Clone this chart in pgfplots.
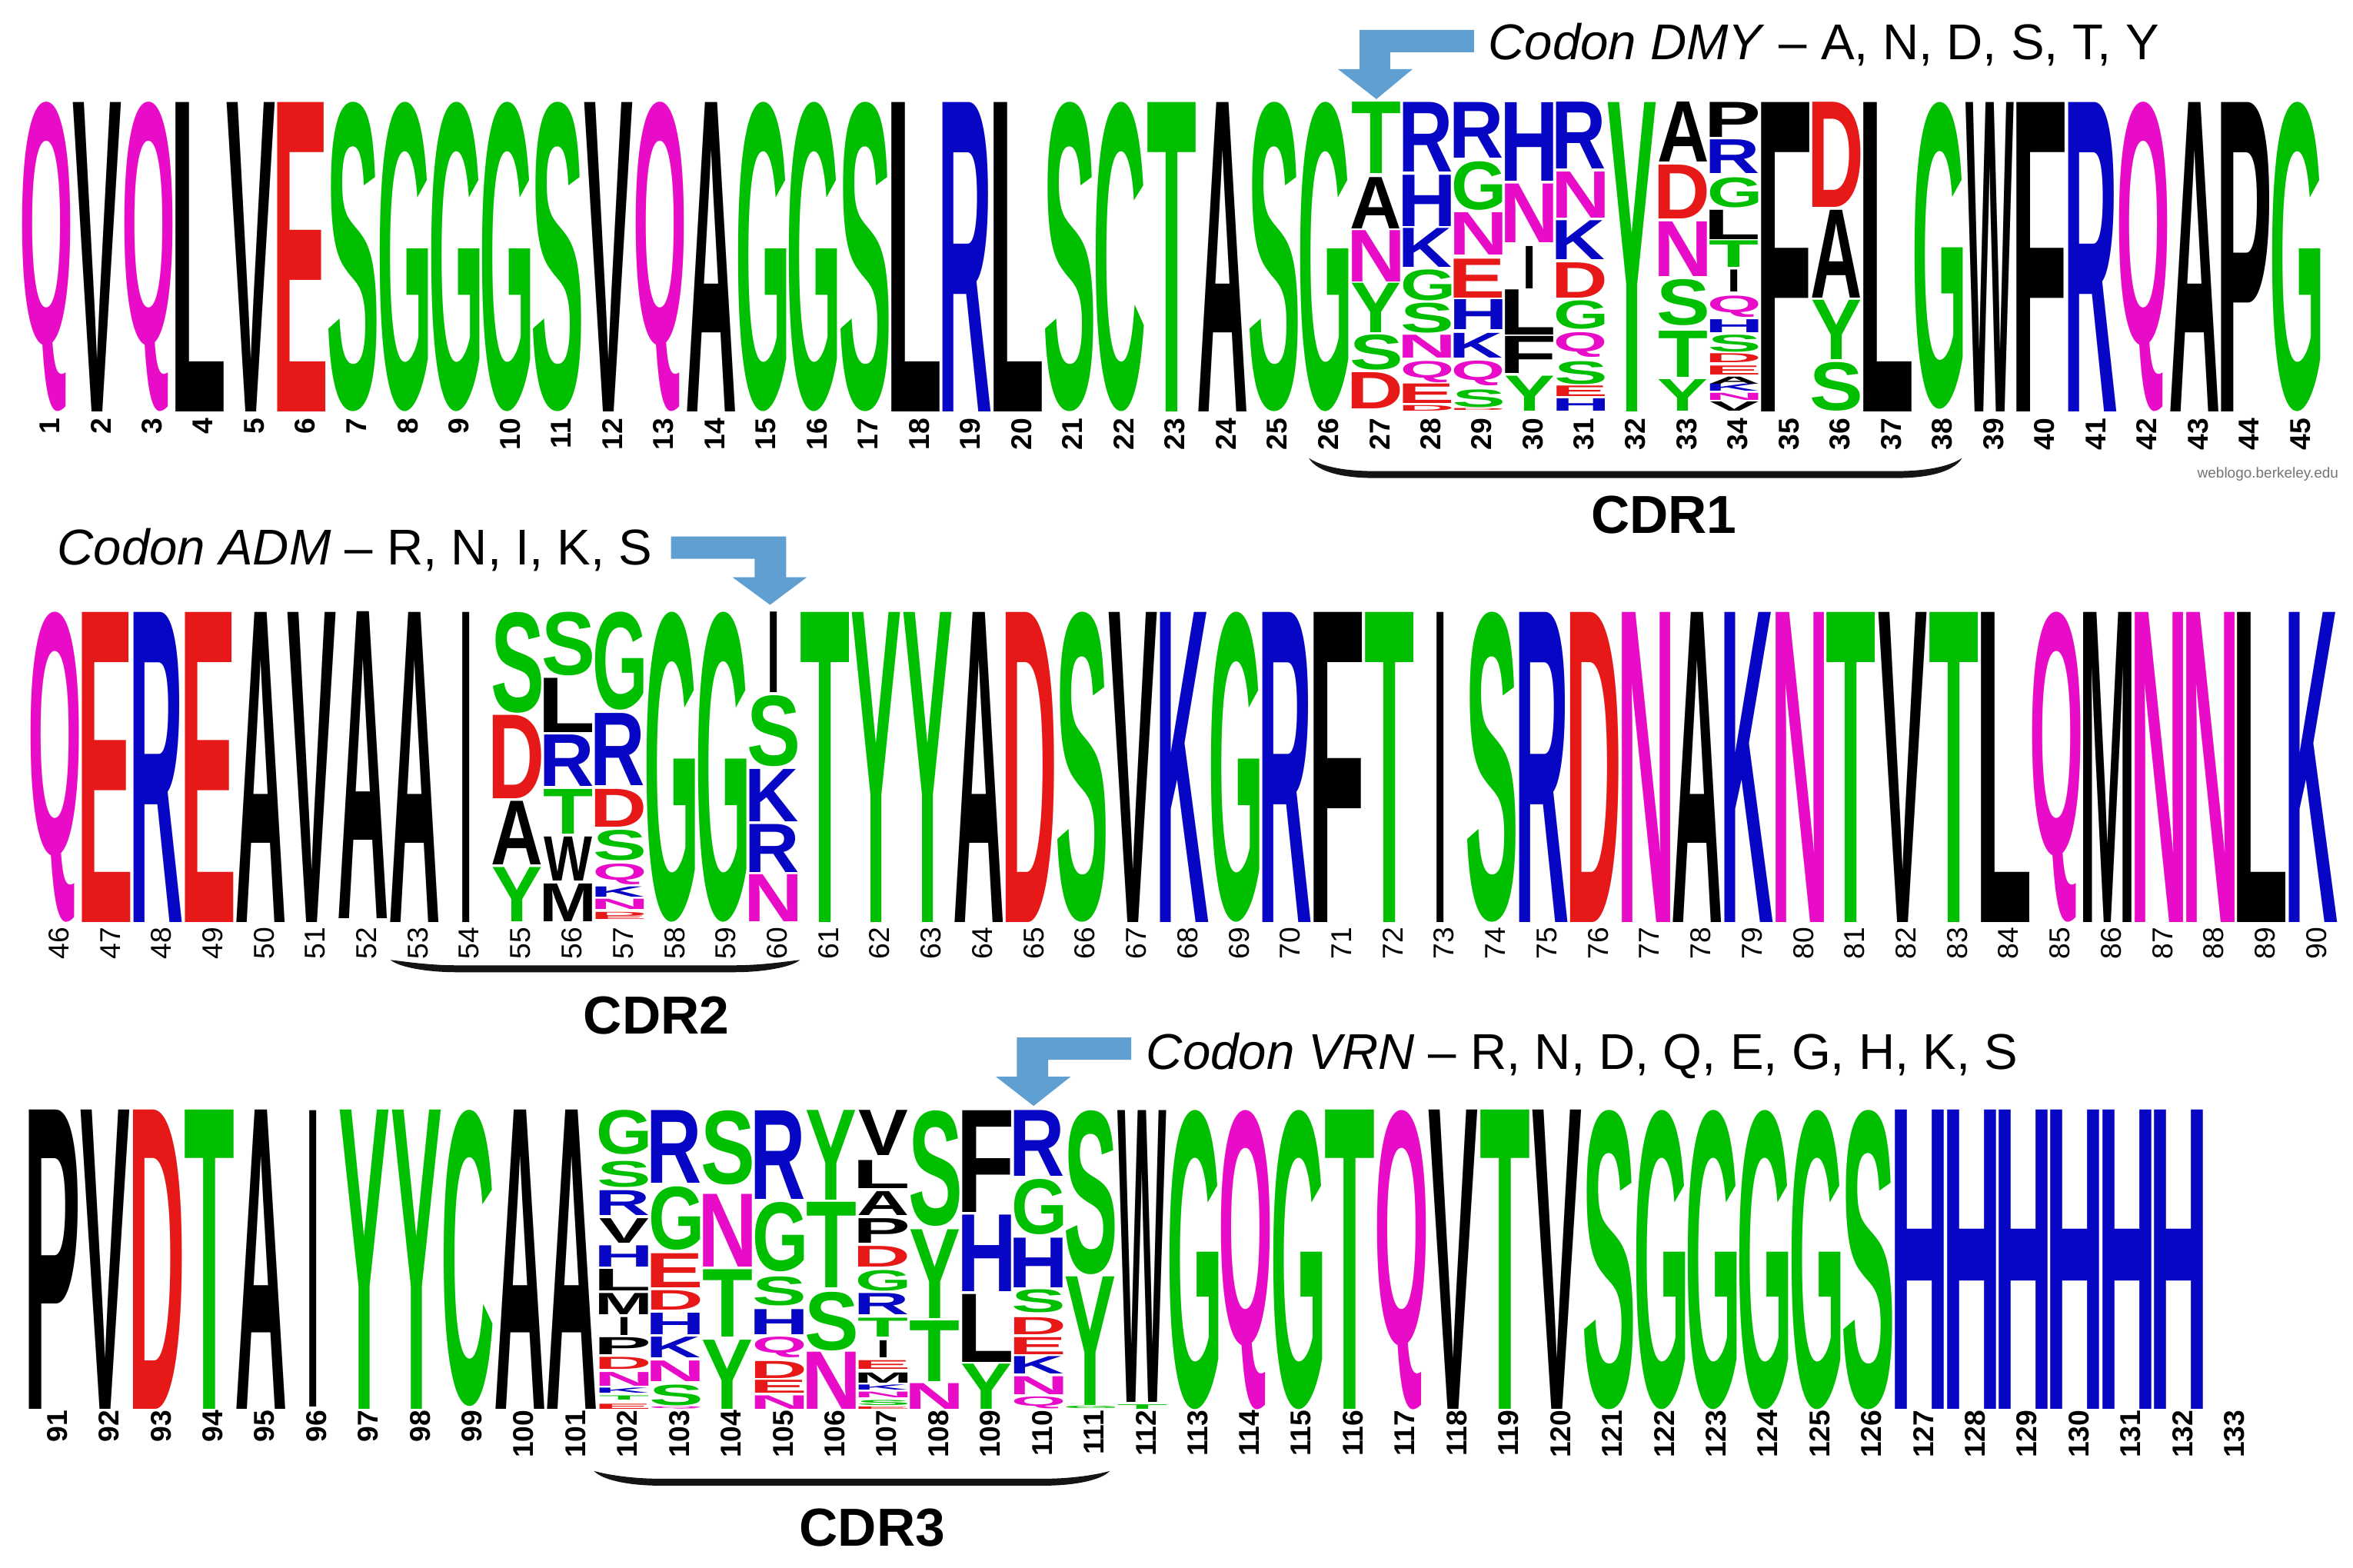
\documentclass[border=0pt]{standalone}
\usepackage{fontspec}
\setmainfont{Liberation Sans}
\usepackage{graphicx}
\usepackage{xcolor}
\usepackage{pgfplots}
\usepackage{pgfplotstable}
\pgfplotsset{compat=1.18}

% residue colours
\definecolor{lgreen}{HTML}{00BE00}
\definecolor{lblue}{HTML}{0606C4}
\definecolor{lred}{HTML}{E61818}
\definecolor{lpink}{HTML}{E80CC8}
\definecolor{arrowblue}{HTML}{5F9FD2}
\colorlet{lcG}{lgreen}\colorlet{lcS}{lgreen}\colorlet{lcT}{lgreen}\colorlet{lcY}{lgreen}\colorlet{lcC}{lgreen}
\colorlet{lcN}{lpink}\colorlet{lcQ}{lpink}
\colorlet{lcK}{lblue}\colorlet{lcR}{lblue}\colorlet{lcH}{lblue}
\colorlet{lcD}{lred}\colorlet{lcE}{lred}
\colorlet{lcA}{black}\colorlet{lcV}{black}\colorlet{lcL}{black}\colorlet{lcI}{black}
\colorlet{lcP}{black}\colorlet{lcW}{black}\colorlet{lcF}{black}\colorlet{lcM}{black}

% one letter, cut to its ink and stretched to the stack cell
\newlength\rowh
\newlength\roww
\def\letI{I}
\newcommand{\logoglyph}{%
  \edef\lett{\pgfplotspointmeta}%
  \ifx\lett\letI\def\thisw{0.09cm}\else\def\thisw{\roww}\fi
  \resizebox*{\thisw}{\hgt\rowh}{\bfseries\textcolor{lc\lett}{%
    \kern-\XeTeXglyphbounds1 \XeTeXcharglyph\expandafter`\lett\relax
    \lett
    \kern-\XeTeXglyphbounds3 \XeTeXcharglyph\expandafter`\lett\relax}}%
}

% the labels are rotated, so yshift moves them sideways and xshift up
\pgfplotsset{
  logo/.style={
    scale only axis, clip=false,
    ymin=0, ymax=100,
    axis y line=none, axis x line*=bottom,
    axis line style={draw=none}, tick style={draw=none},
    major tick length=0pt,
    /pgf/number format/assume math mode=true,
    x tick label style={rotate=90, anchor=east, inner sep=0pt, yshift=-0.045cm},
  },
  letters/.style={
    only marks, mark=none,
    point meta=explicit symbolic,
    visualization depends on={\thisrow{h} \as \hgt},
    nodes near coords={\logoglyph},
    every node near coord/.append style={anchor=south, inner sep=0pt, outer sep=0pt},
  },
}

\pgfplotstableread[row sep=\\]{
p b h l\\
1 0 100 Q\\ 2 0 100 V\\ 3 0 100 Q\\ 4 0 100 L\\ 5 0 100 V\\ 6 0 100 E\\ 7 0 100 S\\ 8 0 100 G\\ 9 0 100 G\\
10 0 100 G\\ 11 0 100 S\\ 12 0 100 V\\ 13 0 100 Q\\ 14 0 100 A\\ 15 0 100 G\\ 16 0 100 G\\ 17 0 100 S\\
18 0 100 L\\ 19 0 100 R\\ 20 0 100 L\\ 21 0 100 S\\ 22 0 100 C\\ 23 0 100 T\\ 24 0 100 A\\ 25 0 100 S\\ 26 0 100 G\\
27 0.8 11.7 D\\ 27 13.4 11.4 S\\ 27 25.4 16 Y\\ 27 42 16.6 N\\ 27 59 16.6 A\\ 27 76.9 23.1 T\\
28 0.2 1.8 D\\ 28 2.5 6.3 E\\ 28 9.4 6.9 Q\\ 28 17.4 7.4 N\\ 28 25.4 9.7 S\\ 28 35.7 10 G\\ 28 46.6 12.6 K\\ 28 59.7 16.6 H\\ 28 77.5 22.5 R\\
29 0.2 0.6 D\\ 29 1.4 5.7 S\\ 29 8.2 8 Q\\ 29 17.4 8 K\\ 29 26.5 9.7 H\\ 29 36.8 12.6 E\\ 29 50.6 13.7 N\\ 29 65.2 15.7 G\\ 29 82 18 R\\
30 0.2 11.3 Y\\ 30 12.2 12 F\\ 30 24.8 14.6 L\\ 30 39.7 13.7 I\\ 30 54.6 19 N\\ 30 74.6 25.4 H\\
31 0.2 4 H\\ 31 4.8 3.4 E\\ 31 8.8 7.4 S\\ 31 17.4 8 Q\\ 31 26.5 9.2 G\\ 31 36.8 11.4 D\\ 31 49.1 12.6 K\\ 31 62.6 14.9 N\\ 31 78.4 21.6 R\\
32 0 100 Y\\
33 0.2 10.2 Y\\ 33 11.1 14.9 T\\ 33 27.7 14.9 S\\ 33 43.7 17.7 N\\ 33 62.4 17.4 D\\ 33 80.6 19.4 A\\
34 0.2 3 V\\ 34 3.7 2.3 N\\ 34 6.5 2.3 K\\ 34 8.8 2.3 A\\ 34 11.7 2.9 E\\ 34 15.7 2.9 D\\ 34 19.1 5.5 S\\ 34 25.4 4.2 H\\ 34 30.5 6.9 Q\\
34 38.6 7.1 I\\ 34 46.6 8.6 T\\ 34 55.7 9.5 L\\ 34 66 9.7 G\\ 34 76.9 10.9 R\\ 34 88.7 11.3 P\\
35 0 100 F\\
36 0.2 15.7 S\\ 36 16.8 19.2 Y\\ 36 36.8 28.4 A\\ 36 66 34 D\\
37 0 100 L\\ 38 0.8 99.2 G\\ 39 0 100 W\\ 40 0 100 F\\ 41 0 100 R\\ 42 0 100 Q\\ 43 0 100 A\\ 44 0 100 P\\ 45 0 100 G\\
}\rowone

\pgfplotstableread[row sep=\\]{
p b h l\\
46 0 100 Q\\ 47 0 100 E\\ 48 0 100 R\\ 49 0 100 E\\ 50 0 100 A\\ 51 0 100 V\\ 52 1 99 A\\ 53 0 100 A\\ 54 0 100 I\\
55 0.2 17.5 Y\\ 55 18.5 20.5 A\\ 55 39.8 26.9 D\\ 55 67.5 32.5 S\\
56 0.2 12.2 M\\ 56 13.2 14.2 W\\ 56 28.5 14.4 T\\ 56 43.8 16.6 R\\ 56 61.2 17.5 L\\ 56 79.5 20.5 S\\
57 0.8 1.1 E\\ 57 1.9 1.3 D\\ 57 4.1 3.3 N\\ 57 8 3.3 K\\ 57 12.1 6.7 Q\\ 57 19.8 9.8 S\\ 57 30.7 12.2 D\\ 57 44 23.3 R\\ 57 68.4 31.6 G\\
58 0 100 G\\ 59 0 100 G\\
60 0.2 15.2 N\\ 60 16.1 15.5 R\\ 60 32.4 16.9 K\\ 60 50.1 22.9 S\\ 60 74 26 I\\
61 0 100 T\\ 62 0 100 Y\\ 63 0 100 Y\\ 64 0 100 A\\ 65 0 100 D\\ 66 0 100 S\\ 67 0 100 V\\ 68 0 100 K\\ 69 0 100 G\\
70 0 100 R\\ 71 0 100 F\\ 72 0 100 T\\ 73 0 100 I\\ 74 0 100 S\\ 75 0 100 R\\ 76 0 100 D\\ 77 0 100 N\\ 78 0 100 A\\
79 0 100 K\\ 80 0 100 N\\ 81 0 100 T\\ 82 0 100 V\\ 83 0 100 T\\ 84 0 100 L\\ 85 0 100 Q\\ 86 0 100 M\\ 87 0 100 N\\
88 0 100 N\\ 89 0 100 L\\ 90 0 100 K\\
}\rowtwo

\pgfplotstableread[row sep=\\]{
p b h l\\
91 0 100 P\\ 92 0 100 V\\ 93 0 100 D\\ 94 0 100 T\\ 95 0 100 A\\ 96 1 99 I\\ 97 0 100 Y\\ 98 0 100 Y\\ 99 1 99 C\\ 100 0 100 A\\ 101 0 100 A\\
102 0.2 1.7 E\\ 102 3.1 1.4 T\\ 102 5.4 1.7 K\\ 102 7.9 4.6 N\\ 102 13.4 4 D\\ 102 18.5 5.7 P\\ 102 24.8 6 I\\ 102 31.7 7.1 M\\
102 39.7 7.2 L\\ 102 47.7 7.1 H\\ 102 55.7 8.2 V\\ 102 64.9 8.3 R\\ 102 74.3 8.7 S\\ 102 85.2 14.8 G\\
103 0.2 0.8 Q\\ 103 1.4 6.9 S\\ 103 9.4 6.9 N\\ 103 17.4 6.9 K\\ 103 25 7.2 H\\ 103 33.4 6.5 D\\ 103 40.8 11.4 E\\ 103 53.4 21.2 G\\ 103 75.7 24.3 R\\
104 0.2 23.1 Y\\ 104 24.3 22.5 T\\ 104 47.7 24.3 N\\ 104 75.2 24.8 S\\
105 0 4.5 N\\ 105 5.4 4.3 E\\ 105 10.5 5.7 D\\ 105 17.4 6.9 Q\\ 105 25 8.4 H\\ 105 34.6 9.7 S\\ 105 46 23.2 G\\ 105 70.4 29.6 R\\
106 0 19.1 N\\ 106 19.7 19.6 S\\ 106 40.8 28.6 T\\ 106 70 30 Y\\
107 0.2 0.8 E\\ 107 1.4 1.7 S\\ 107 4 1.9 N\\ 107 6.5 1.7 K\\ 107 8.8 3.4 M\\ 107 13.4 2.9 E\\ 107 17.4 5.7 I\\ 107 24.3 6.3 T\\
107 31.7 7.1 R\\ 107 39.7 6.9 G\\ 107 47.7 6.9 D\\ 107 55.7 8.2 P\\ 107 64.9 8 A\\ 107 74 9.4 L\\ 107 84.9 15.1 V\\
108 0 8.6 N\\ 108 9.4 20.3 T\\ 108 30.5 29.7 Y\\ 108 61.4 38.6 S\\
109 0 15.1 Y\\ 109 15.9 22.7 L\\ 109 39.5 25.6 H\\ 109 66 34 F\\
110 0.2 4 Q\\ 110 5.1 6 N\\ 110 11.9 5.8 K\\ 110 18.5 5.7 E\\ 110 25 5.7 D\\ 110 32.3 7.7 S\\ 110 40.8 16.6 H\\ 110 58.4 18.5 G\\ 110 78 22 R\\
111 0.2 0.8 G\\ 111 1.4 43 Y\\ 111 45.2 54.8 S\\
112 0.2 1.5 T\\ 112 2.5 97.5 W\\
113 0 100 G\\ 114 0 100 Q\\ 115 0 100 G\\ 116 0 100 T\\ 117 0 100 Q\\ 118 0 100 V\\ 119 0 100 T\\ 120 0 100 V\\
121 0 100 S\\ 122 0 100 G\\ 123 0 100 G\\ 124 0 100 G\\ 125 0 100 G\\ 126 0 100 S\\
127 0 100 H\\ 128 0 100 H\\ 129 0 100 H\\ 130 0 100 H\\ 131 0 100 H\\ 132 0 100 H\\
}\rowthree

% tapered bracket under a CDR, coordinates in reference pixels
\newcommand{\cdrbrace}[4]{%
  \fill[black!92] (#1,#3)
    .. controls ({#1+18},{#4-9}) and ({#1+50},{#4-4}) .. ({#1+85},{#4-4})
    -- ({#2-85},{#4-4})
    .. controls ({#2-50},{#4-4}) and ({#2-18},{#4-9}) .. (#2,#3)
    .. controls ({#2-12},{#4-1}) and ({#2-50},{#4+5}) .. ({#2-85},{#4+5})
    -- ({#1+85},{#4+5})
    .. controls ({#1+50},{#4+5}) and ({#1+12},{#4-1}) .. (#1,#3) -- cycle;%
}

\begin{document}
\begin{tikzpicture}
\path[use as bounding box] (0,0) rectangle (30.6cm,20.38cm);

\setlength\rowh{0.0402cm}\setlength\roww{0.626cm}
\begin{axis}[logo, at={(0.2675cm,15.03cm)}, width=29.935cm, height=4.02cm,
  xmin=0.5, xmax=45.5, xtick={1,...,45},
  x tick label style={xshift=-0.08cm, font=\bfseries\fontsize{10.6}{12}\selectfont}]
\addplot[letters] table[x=p, y=b, meta=l] {\rowone};
\end{axis}

\setlength\rowh{0.0403cm}\setlength\roww{0.628cm}
\begin{axis}[logo, at={(0.3865cm,8.39cm)}, width=30.027cm, height=4.03cm,
  xmin=45.5, xmax=90.5, xtick={46,...,90},
  x tick label style={xshift=-0.06cm, font=\fontsize{10.6}{12}\selectfont}]
\addplot[letters] table[x=p, y=b, meta=l] {\rowtwo};
\end{axis}

\setlength\rowh{0.0389cm}\setlength\roww{0.635cm}
\begin{axis}[logo, at={(0.363cm,2.05cm)}, width=28.985cm, height=3.89cm,
  xmin=90.5, xmax=133.5, xtick={91,...,133},
  x tick label style={font=\bfseries\fontsize{10.6}{12}\selectfont}]
\addplot[letters] table[x=p, y=b, meta=l] {\rowthree};
\end{axis}

% annotations, in reference pixels from the top left corner
\begin{scope}[x=0.01cm, y=-0.01cm, yshift=20.38cm]
  \fill[arrowblue] (1918,39) -- (1769,39) -- (1769,90) -- (1741,90) -- (1791,129)
    -- (1838,90) -- (1809,90) -- (1809,68) -- (1918,68) -- cycle;
  \fill[arrowblue] (873,698) -- (1023,698) -- (1023,751) -- (1050,751) -- (1002,787)
    -- (953,751) -- (982,751) -- (982,727) -- (873,727) -- cycle;
  \fill[arrowblue] (1472,1350) -- (1323,1350) -- (1323,1401) -- (1296,1401) -- (1345,1439)
    -- (1393,1401) -- (1364,1401) -- (1364,1379) -- (1472,1379) -- cycle;

  \node[anchor=base west, inner sep=0pt, font=\fontsize{18.6}{22}\selectfont] at (1936,78)
    {\textit{Codon DMY} -- A, N, D, S, T, Y};
  \node[anchor=base west, inner sep=0pt, font=\fontsize{18.6}{22}\selectfont] at (74,735)
    {\textit{Codon ADM} -- R, N, I, K, S};
  \node[anchor=base west, inner sep=0pt, font=\fontsize{18.6}{22}\selectfont] at (1491,1391)
    {\textit{Codon VRN} -- R, N, D, Q, E, G, H, K, S};

  \cdrbrace{1703}{2553}{596}{617}
  \cdrbrace{508}{1041}{1249}{1260}
  \cdrbrace{773}{1444}{1914}{1928}

  \node[font=\bfseries\fontsize{19.8}{22}\selectfont] at (2165,670) {CDR1};
  \node[font=\bfseries\fontsize{19.8}{22}\selectfont] at (854,1321) {CDR2};
  \node[font=\bfseries\fontsize{19.8}{22}\selectfont] at (1135,1988) {CDR3};
  \node[text=black!55, font=\fontsize{5.4}{6}\selectfont] at (2951,617) {weblogo.berkeley.edu};
\end{scope}
\end{tikzpicture}
\end{document}
